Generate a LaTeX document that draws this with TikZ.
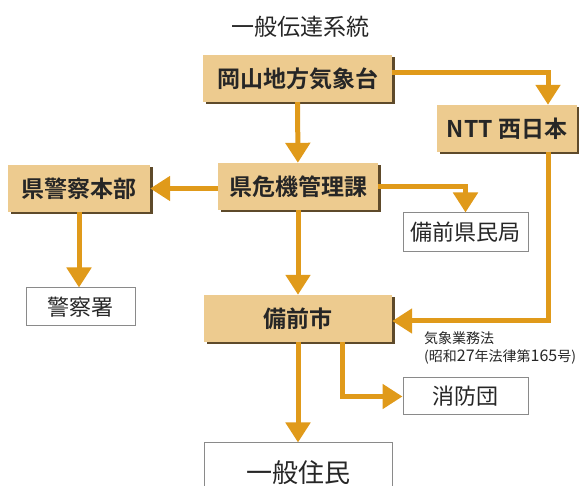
\documentclass[tikz,border=0pt]{standalone}
\usepackage{fontspec}
\setmainfont{Noto Sans CJK JP}[BoldFont={Noto Sans CJK JP Bold}]
\usetikzlibrary{arrows.meta,shadows}
\definecolor{boxtan}{HTML}{EDCB8F}
\definecolor{shadowbrown}{HTML}{5E4A2A}
\definecolor{flowgold}{HTML}{E09A1A}
\definecolor{boxgray}{HTML}{8A8A8A}
\definecolor{textdark}{HTML}{262626}
\newcommand\lawdigits[1]{{\fontsize{16}{18}\selectfont #1}}

\begin{document}
\begin{tikzpicture}[x=1pt,y=-1pt,
  tanbox/.style={fill=boxtan,inner sep=0pt,minimum height=47pt,text=textdark,
    font=\bfseries\fontsize{23}{23}\selectfont,
    drop shadow={shadow xshift=2.5pt,shadow yshift=-2.5pt,opacity=1,fill=shadowbrown}},
  whitebox/.style={draw=boxgray,line width=1pt,fill=white,inner sep=0pt,text=textdark,
    font=\fontsize{22}{22}\selectfont},
  flow/.style={draw=flowgold,line width=5pt,-{Triangle[width=24pt,length=20pt]}}]
\useasboundingbox (0,0) rectangle (579,486);
\node[text=textdark,font=\fontsize{23}{23}\selectfont] (title) at (300,27) {一般伝達系統};
% agencies
\node[tanbox,minimum width=189pt] (kishodai) at (297.5,78.5) {岡山地方気象台};
\node[tanbox,minimum width=140pt] (ntt) at (507,128.5) {NTT 西日本};
\node[tanbox,minimum width=160pt] (kiki) at (298,186.5) {県危機管理課};
\node[tanbox,minimum width=142pt] (kenkei) at (79,188.5) {県警察本部};
\node[whitebox,minimum width=125pt,minimum height=39pt] (kenmin) at (465.5,232.5) {備前県民局};
\node[whitebox,minimum width=109pt,minimum height=38pt] (keisatsu) at (80.5,307) {警察署};
\node[tanbox,minimum width=188pt] (bizen) at (298,318.5) {備前市};
\node[whitebox,minimum width=125pt,minimum height=37pt] (shobo) at (465.5,396.5) {消防団};
\node[whitebox,minimum width=188pt,minimum height=60pt,font=\fontsize{26}{26}\selectfont] (jumin) at (298,473) {一般住民};
\node[anchor=west,align=left,inner sep=0pt,text=textdark,font=\fontsize{14}{18}\selectfont] (hoki) at (424,347.5) {気象業務法\\(昭和\lawdigits{27}年法律第\lawdigits{165}号)};
% flows
\draw[flow] (kishodai) -- (kiki);
\draw[flow] ([yshift=5.5pt]kishodai.east) -| ([xshift=41pt]ntt.north);
\draw[flow] ([xshift=41pt]ntt.south) |- ([yshift=-2.5pt]bizen.east);
\draw[flow] (kenkei.east -| kiki.west) -- (kenkei.east);
\draw[flow] (kiki.east) -| (kenmin.north);
\draw[flow] (kenkei.south) -- (keisatsu.north -| kenkei.south);
\draw[flow] (kiki) -- (bizen);
\draw[flow] (bizen) -- (jumin);
\draw[flow] ([xshift=44pt]bizen.south) |- (shobo.west);
\end{tikzpicture}
\end{document}
